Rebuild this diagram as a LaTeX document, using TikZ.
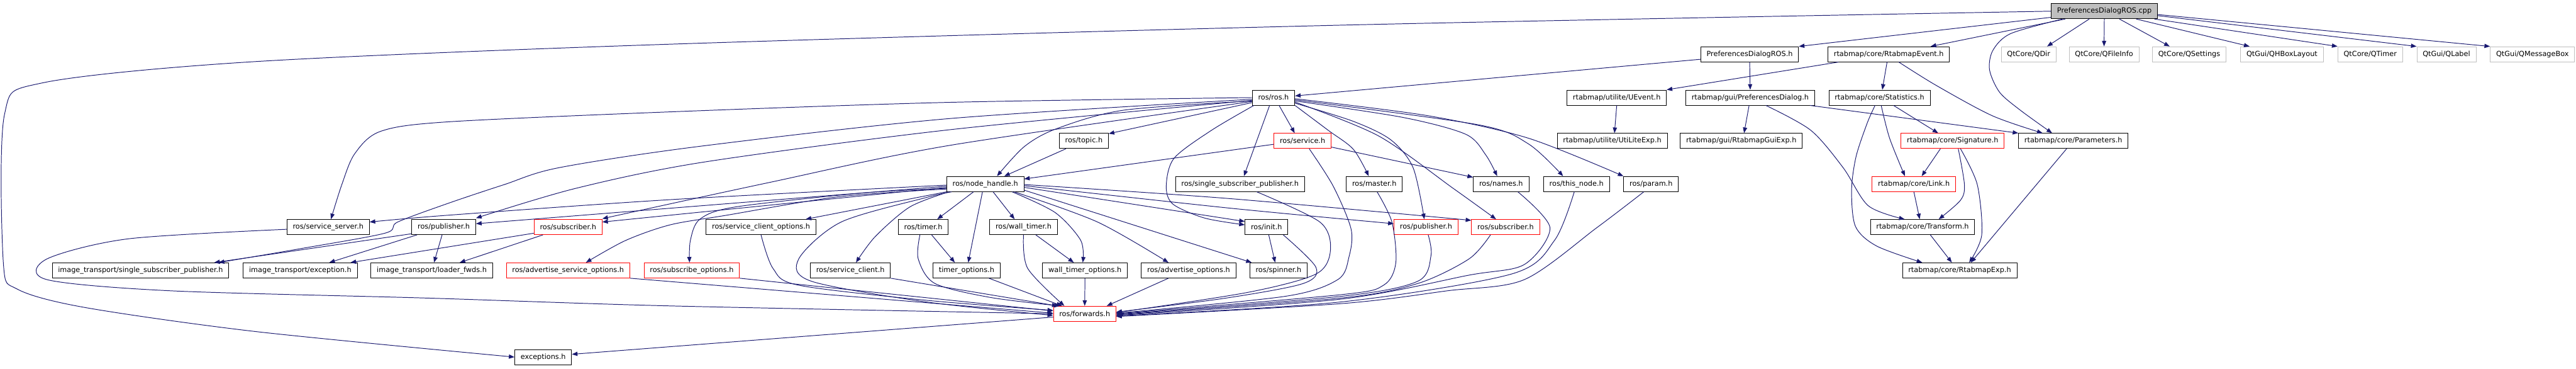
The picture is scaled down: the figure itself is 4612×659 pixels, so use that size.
\documentclass[tikz,border=0pt]{standalone}
\usepackage{fontspec}
\setmainfont{DejaVu Sans}
\usepackage{tikz}
\usetikzlibrary{arrows.meta}
\definecolor{edgeblue}{RGB}{25,25,112}
\definecolor{extgray}{RGB}{191,191,191}

\begin{document}
\begin{tikzpicture}[
  x=1pt, y=-1pt,
  file/.style={draw=black, fill=white, line width=1pt, minimum height=27pt, inner xsep=10.5pt, inner ysep=0pt, font=\fontsize{12.7}{15}\selectfont},
  trunc/.style={file, draw=red},
  ext/.style={file, draw=extgray},
  dep/.style={draw=edgeblue, line width=1.1pt, -{Triangle[length=10pt,width=7.5pt]}},
]
  \useasboundingbox (0,0) rectangle (4612,659);

  \node[file, fill=extgray] (cpp) at (3767.5,20) {PreferencesDialogROS.cpp};

  \node[file] (pdros) at (3132.5,97) {PreferencesDialogROS.h};
  \node[file] (revent) at (3381.5,97) {rtabmap/core/RtabmapEvent.h};
  \node[ext] (qdir) at (3632,97) {QtCore/QDir};
  \node[ext] (qfileinfo) at (3767,97) {QtCore/QFileInfo};
  \node[ext] (qsettings) at (3919.5,97) {QtCore/QSettings};
  \node[ext] (qhbox) at (4085.5,97) {QtGui/QHBoxLayout};
  \node[ext] (qtimer) at (4243.5,97) {QtCore/QTimer};
  \node[ext] (qlabel) at (4380,97) {QtGui/QLabel};
  \node[ext] (qmsgbox) at (4534,97) {QtGui/QMessageBox};

  \node[file] (rosh) at (2280,174.5) {ros/ros.h};
  \node[file] (uevent) at (2894.5,174.5) {rtabmap/utilite/UEvent.h};
  \node[file] (prefdlg) at (3133.5,174.5) {rtabmap/gui/PreferencesDialog.h};
  \node[file] (stats) at (3365,174.5) {rtabmap/core/Statistics.h};

  \node[file] (topic) at (1940.5,252) {ros/topic.h};
  \node[trunc] (service) at (2332,252) {ros/service.h};
  \node[file] (utilexp) at (2886.5,252) {rtabmap/utilite/UtiLiteExp.h};
  \node[file] (guiexp) at (3117.5,252) {rtabmap/gui/RtabmapGuiExp.h};
  \node[trunc] (signature) at (3496,252) {rtabmap/core/Signature.h};
  \node[file] (params) at (3712,252) {rtabmap/core/Parameters.h};

  \node[file] (nodehandle) at (1764,329) {ros/node\_handle.h};
  \node[file] (rosssp) at (2220,329) {ros/single\_subscriber\_publisher.h};
  \node[file] (master) at (2460.5,329) {ros/master.h};
  \node[file] (names) at (2687.5,329) {ros/names.h};
  \node[file] (thisnode) at (2822.5,329) {ros/this\_node.h};
  \node[file] (param) at (2956,329) {ros/param.h};
  \node[trunc] (link) at (3426.5,329) {rtabmap/core/Link.h};

  \node[file] (srvserver) at (587.5,406) {ros/service\_server.h};
  \node[file] (pubB) at (794.5,406) {ros/publisher.h};
  \node[trunc] (subL) at (1017,406) {ros/subscriber.h};
  \node[file] (srvclientopt) at (1362.5,406) {ros/service\_client\_options.h};
  \node[file] (timer) at (1653,406) {ros/timer.h};
  \node[file] (walltimer) at (1832.5,406) {ros/wall\_timer.h};
  \node[file] (init) at (2267.5,406) {ros/init.h};
  \node[trunc] (pubR) at (2553,406) {ros/publisher.h};
  \node[trunc] (subR) at (2695.5,406) {ros/subscriber.h};
  \node[file] (transform) at (3442,406) {rtabmap/core/Transform.h};

  \node[file] (itssp) at (251.5,483.5) {image\_transport/single\_subscriber\_publisher.h};
  \node[file] (itexc) at (537.5,483.5) {image\_transport/exception.h};
  \node[file] (itloader) at (773,483.5) {image\_transport/loader\_fwds.h};
  \node[trunc] (advsrvopt) at (1017,483.5) {ros/advertise\_service\_options.h};
  \node[trunc] (subopt) at (1238.5,483.5) {ros/subscribe\_options.h};
  \node[file] (srvclient) at (1522.5,483.5) {ros/service\_client.h};
  \node[file] (timeropt) at (1730.5,483.5) {timer\_options.h};
  \node[file] (walltimeropt) at (1942.5,483.5) {wall\_timer\_options.h};
  \node[file] (advopt) at (2128,483.5) {ros/advertise\_options.h};
  \node[file] (spinner) at (2289,483.5) {ros/spinner.h};
  \node[file] (rtexp) at (3508.5,483.5) {rtabmap/core/RtabmapExp.h};

  \node[trunc] (forwards) at (1942,561) {ros/forwards.h};
  \node[file] (exceptions) at (972.5,638.5) {exceptions.h};

  \draw[dep] plot[smooth] coordinates {(cpp.west) (2400,45) (1200,79) (459,110) (77,148) (8,205) (6,470) (31,517) (153,550) (459,593) (exceptions.west)};
  \draw[dep] ([yshift=-11pt]cpp.west) -- (pdros.north east);
  \draw[dep] ([xshift=-70pt]cpp.south) -- ([xshift=75pt]revent.north);
  \draw[dep] plot[smooth] coordinates {([xshift=-75pt]cpp.south) (3600,60) (3568,90) (3562,125) (3580,165) (3617,197) ([xshift=-38pt]params.north)};
  \draw[dep] ([xshift=-27pt]cpp.south) -- ([xshift=33pt]qdir.north);
  \draw[dep] (cpp.south) -- (qfileinfo.north);
  \draw[dep] ([xshift=27pt]cpp.south) -- ([xshift=-35pt]qsettings.north);
  \draw[dep] ([xshift=57pt]cpp.south) -- ([xshift=-58pt]qhbox.north);
  \draw[dep] ([xshift=-6pt]cpp.south east) -- (qtimer.north west);
  \draw[dep] ([yshift=-8pt]cpp.east) -- (qlabel.north west);
  \draw[dep] ([yshift=-6pt]cpp.east) -- (qmsgbox.north west);

  \draw[dep] ([yshift=-9pt]pdros.west) -- ([yshift=3pt]rosh.east);
  \draw[dep] (pdros.south) -- (prefdlg.north);
  \draw[dep] ([xshift=-90pt]revent.south) -- (uevent.north east);
  \draw[dep] ([xshift=-3pt]revent.south) -- ([xshift=5pt]stats.north);
  \draw[dep] plot[smooth] coordinates {([xshift=18pt]revent.south) (3467,153) (3567,207) ([xshift=-55pt]params.north)};
  \draw[dep] (uevent.south) -- ([xshift=4pt]utilexp.north);
  \draw[dep] ([xshift=-2pt]prefdlg.south) -- ([xshift=5pt]guiexp.north);
  \draw[dep] ([xshift=-9pt]prefdlg.south east) -- (params.north west);
  \draw[dep] plot[smooth] coordinates {([xshift=28pt]prefdlg.south) (3242,233) (3300,300) (3345,368) ([xshift=-32pt]transform.north)};
  \draw[dep] ([xshift=25pt]stats.south) -- ([xshift=-26pt]signature.north);
  \draw[dep] plot[smooth] coordinates {([xshift=3pt]stats.south) (3383,247) ([xshift=-16pt]link.north)};
  \draw[dep] plot[smooth] coordinates {([xshift=-8pt]stats.south) (3343,220) (3323,280) (3315,340) (3322,405) (3360,440) ([xshift=-67pt]rtexp.north)};
  \draw[dep] ([xshift=-22pt]signature.south) -- ([xshift=14pt]link.north);
  \draw[dep] plot[smooth] coordinates {([xshift=10pt]signature.south) (3517,330) (3510,358) ([xshift=29pt]transform.north)};
  \draw[dep] plot[smooth] coordinates {([xshift=14pt]signature.south) (3540,330) (3548,420) ([xshift=17pt]rtexp.north)};
  \draw[dep] (link.south) -- ([xshift=-5pt]transform.north);
  \draw[dep] ([xshift=14pt]transform.south) -- ([xshift=-14pt]rtexp.north);
  \draw[dep] ([xshift=-12pt]params.south) -- ([xshift=20pt]rtexp.north);

  \draw[dep] plot[smooth] coordinates {(rosh.west) (1700,183) (1200,200) (800,218) (681,235) (635,275) (612,330) ([xshift=5pt]srvserver.north)};
  \draw[dep] plot[smooth] coordinates {([yshift=-3pt]rosh.west) (1700,212) (1250,262) (1000,300) (903,330) (804,363) (712,397) (689,417) (536,445) ([xshift=140pt]itssp.north)};
  \draw[dep] plot[smooth] coordinates {([yshift=-5pt]rosh.west) (1700,232) (1259,290) (1030,337) ([yshift=16pt]pubB.east)};
  \draw[dep] plot[smooth] coordinates {([yshift=-7pt]rosh.west) (1700,260) (1374,327) ([yshift=15pt]subL.east)};
  \draw[dep] plot[smooth] coordinates {([yshift=-6pt]rosh.west) (2012,197) (1892,230) (1834,262) ([xshift=21pt]nodehandle.north)};
  \draw[dep] ([yshift=-9pt]rosh.west) -- ([yshift=13pt]topic.east);
  \draw[dep] ([xshift=-32pt]topic.south) -- ([xshift=34pt]nodehandle.north);
  \draw[dep] ([xshift=10pt]rosh.south) -- ([xshift=-14pt]service.north);
  \draw[dep] ([yshift=-6pt]service.west) -- ([yshift=9pt]nodehandle.east);
  \draw[dep] ([xshift=-7pt]rosh.south) -- ([xshift=7pt]rosssp.north);
  \draw[dep] plot[smooth] coordinates {([xshift=-35pt]rosh.south) (2169,233) (2102,283) (2088,333) (2100,365) (2157,390) ([yshift=4pt]init.west)};
  \draw[dep] plot[smooth] coordinates {(rosh.south east) (2378,233) (2423,267) ([xshift=-10pt]master.north)};
  \draw[dep] plot[smooth] coordinates {([yshift=-10pt]rosh.east) (2423,217) (2490,250) (2530,300) ([xshift=-3pt]pubR.north)};
  \draw[dep] plot[smooth] coordinates {([yshift=-8pt]rosh.east) (2468,243) (2602,337) ([xshift=-17pt]subR.north)};
  \draw[dep] plot[smooth] coordinates {([yshift=-6pt]rosh.east) (2512,210) (2624,240) (2660,277) ([xshift=-7pt]names.north)};
  \draw[dep] plot[smooth] coordinates {([yshift=-4pt]rosh.east) (2646,223) (2736,257) ([xshift=-24pt]thisnode.north)};
  \draw[dep] plot[smooth] coordinates {([yshift=-2pt]rosh.east) (2557,207) (2736,247) (param.north west)};
  \draw[dep] ([yshift=-11pt]service.east) -- ([yshift=12pt]names.west);
  \draw[dep] plot[smooth] coordinates {([xshift=12pt]service.south) (2387,333) (2419,410) (2415,460) (2395,500) (2300,530) ([yshift=1pt]forwards.east)};

  \draw[dep] plot[smooth] coordinates {([yshift=-2pt]nodehandle.west) (1200,357) (800,385) ([yshift=9pt]srvserver.east)};
  \draw[dep] ([yshift=-4pt]nodehandle.west) -- ([yshift=6pt]pubB.east);
  \draw[dep] ([yshift=-6pt]nodehandle.west) -- ([yshift=9pt]subL.east);
  \draw[dep] (nodehandle.south west) -- ([xshift=80pt]srvclientopt.north);
  \draw[dep] plot[smooth] coordinates {([yshift=-8pt]nodehandle.west) (1546,345) (1317,370) (1253,392) (1236,430) ([xshift=-4pt]subopt.north)};
  \draw[dep] plot[smooth] coordinates {([yshift=-9pt]nodehandle.west) (1500,352) (1300,385) (1200,402) (1120,430) ([xshift=32pt]advsrvopt.north)};
  \draw[dep] plot[smooth] coordinates {([xshift=-65pt]nodehandle.south) (1629,370) (1567,423) ([xshift=10pt]srvclient.north)};
  \draw[dep] ([xshift=-21pt]nodehandle.south) -- ([xshift=25pt]timer.north);
  \draw[dep] ([xshift=-5pt]nodehandle.south) -- ([xshift=3pt]timeropt.north);
  \draw[dep] ([xshift=14pt]nodehandle.south) -- ([xshift=-16pt]walltimer.north);
  \draw[dep] plot[smooth] coordinates {([xshift=48pt]nodehandle.south) (1889,380) (1935,430) ([xshift=-4pt]walltimeropt.north)};
  \draw[dep] plot[smooth] coordinates {([xshift=52pt]nodehandle.south) (1965,397) ([xshift=-36pt]advopt.north)};
  \draw[dep] ([yshift=-11pt]nodehandle.east) -- ([xshift=-48pt]spinner.north);
  \draw[dep] ([yshift=-6pt]nodehandle.east) -- ([yshift=10pt]init.west);
  \draw[dep] plot[smooth] coordinates {([yshift=-3pt]nodehandle.east) (2200,372) ([yshift=6pt]pubR.west)};
  \draw[dep] plot[smooth] coordinates {([yshift=-1pt]nodehandle.east) (2200,355) ([yshift=12pt]subR.west)};
  \draw[dep] plot[smooth] coordinates {([xshift=-60pt]nodehandle.south) (1659,353) (1506,397) (1430,463) (1453,503) (1659,540) ([yshift=-3pt]forwards.west)};

  \draw[dep] plot[smooth] coordinates {([yshift=-4pt]srvserver.west) (230,427) (84,463) (84,500) (306,520) (765,533) (1200,547) (forwards.west)};
  \draw[dep] (advsrvopt.south east) -- ([yshift=1pt]forwards.west);
  \draw[dep] (subopt.south east) -- ([yshift=5pt]forwards.west);
  \draw[dep] plot[smooth] coordinates {(srvclientopt.south) (1384,480) (1430,510) (1659,537) ([yshift=6pt]forwards.west)};
  \draw[dep] (srvclient.south east) -- ([xshift=8pt]forwards.north west);
  \draw[dep] plot[smooth] coordinates {([xshift=-6pt]timer.south) (1644,463) (1674,507) (1774,532) ([xshift=12pt]forwards.north west)};
  \draw[dep] ([xshift=40pt]timeropt.south) -- ([xshift=16pt]forwards.north west);
  \draw[dep] plot[smooth] coordinates {(walltimer.south) (1840,480) ([xshift=20pt]forwards.north west)};
  \draw[dep] (walltimeropt.south) -- (forwards.north);
  \draw[dep] ([xshift=-36pt]advopt.south) -- ([xshift=-17pt]forwards.north east);
  \draw[dep] plot[smooth] coordinates {([xshift=30pt]init.south) (2356,478) (2333,507) (2195,533) ([yshift=3pt]forwards.east)};
  \draw[dep] plot[smooth] coordinates {([xshift=30pt]rosssp.south) (2363,397) (2382,447) (2356,490) (2233,523) ([yshift=2pt]forwards.east)};
  \draw[dep] plot[smooth] coordinates {([xshift=5pt]master.south) (2492,397) (2499,470) (2477,510) (2400,527) (forwards.east)};
  \draw[dep] plot[smooth] coordinates {([xshift=4pt]pubR.south) (2562,457) (2538,503) (2400,530) ([yshift=-1pt]forwards.east)};
  \draw[dep] plot[smooth] coordinates {([xshift=-27pt]subR.south) (2630,463) (2538,507) (2400,533) ([yshift=-2pt]forwards.east)};
  \draw[dep] plot[smooth] coordinates {([xshift=30pt]names.south) (2775,407) (2729,473) (2630,492) (2400,535) ([yshift=-3pt]forwards.east)};
  \draw[dep] plot[smooth] coordinates {([xshift=-4pt]thisnode.south) (2783,430) (2706,490) (2400,540) ([yshift=-4pt]forwards.east)};
  \draw[dep] plot[smooth] coordinates {([xshift=-13pt]param.south) (2859,407) (2729,500) (2591,520) (2400,543) ([yshift=-5pt]forwards.east)};
  \draw[dep] ([yshift=-6pt]forwards.west) -- ([yshift=5pt]exceptions.east);

  \draw[dep] ([yshift=-12pt]pubB.west) -- ([xshift=132pt]itssp.north);
  \draw[dep] ([xshift=-48pt]pubB.south) -- ([xshift=52pt]itexc.north);
  \draw[dep] ([xshift=-3pt]pubB.south) -- ([xshift=4pt]itloader.north);
  \draw[dep] ([yshift=-11pt]subL.west) -- ([xshift=90pt]itexc.north);
  \draw[dep] ([xshift=-45pt]subL.south) -- ([xshift=50pt]itloader.north);
  \draw[dep] ([xshift=15pt]timer.south) -- ([xshift=-21pt]timeropt.north);
  \draw[dep] ([xshift=22pt]walltimer.south) -- ([xshift=-20pt]walltimeropt.north);
  \draw[dep] ([xshift=4pt]init.south) -- ([xshift=-6pt]spinner.north);
\end{tikzpicture}
\end{document}
